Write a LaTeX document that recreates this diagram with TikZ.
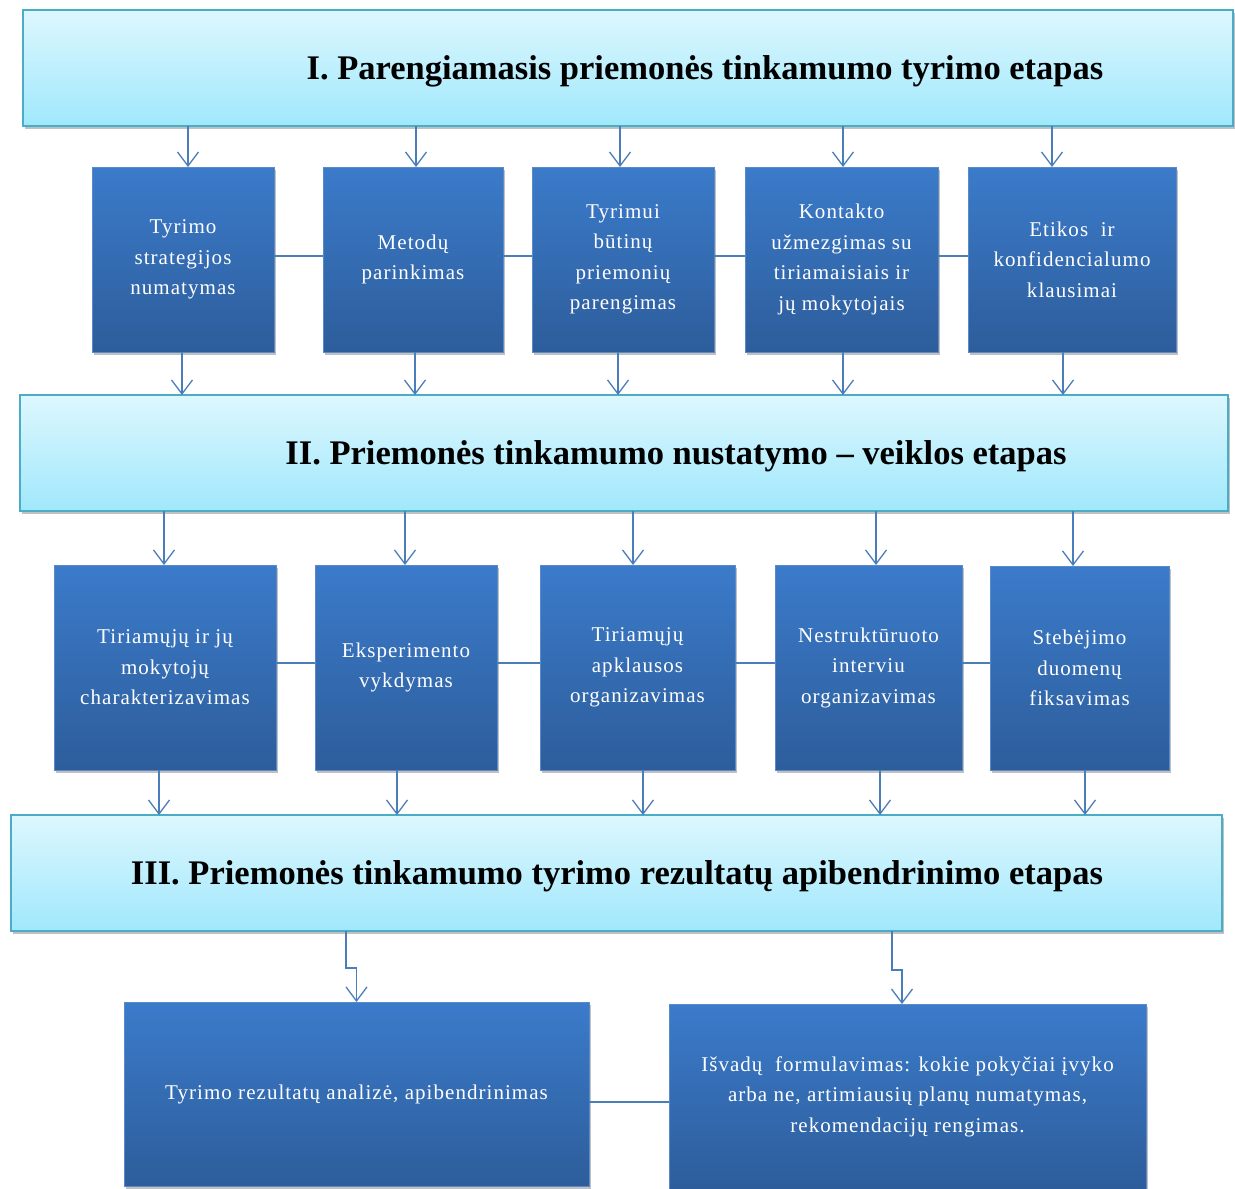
\documentclass[tikz,border=0pt]{standalone}
\usepackage{fontspec}
\setmainfont{Liberation Serif}
\newfontfamily\boxfont{Liberation Serif}[LetterSpace=5]
\usetikzlibrary{arrows.meta,shadows,calc}

\definecolor{bannerTop}{HTML}{DDF7FE}
\definecolor{bannerBot}{HTML}{A0E8FC}
\definecolor{bannerLine}{HTML}{4BACC6}
\definecolor{boxTop}{HTML}{3B7BCA}
\definecolor{boxBot}{HTML}{2D5D9B}
\definecolor{boxLine}{HTML}{5A8BC8}
\definecolor{linkCol}{HTML}{4A7EBB}

\tikzset{
  banner/.style={draw=bannerLine, line width=1.4pt, top color=bannerTop,
    bottom color=bannerBot, inner sep=0pt, outer sep=0pt,
    drop shadow={shadow xshift=2pt, shadow yshift=-3pt, opacity=0.35, fill=black!70}},
  bannertext/.style={font=\bfseries\fontsize{34.5}{38}\selectfont, text=black,
    inner sep=0pt, anchor=base},
  stepbox/.style={draw=boxLine, line width=0.8pt, top color=boxTop,
    bottom color=boxBot, inner sep=0pt, outer sep=0pt, align=center,
    text=white, font=\boxfont\fontsize{21}{30.5}\selectfont,
    drop shadow={shadow xshift=2pt, shadow yshift=-3pt, opacity=0.35, fill=black!70}},
  arr/.style={draw=linkCol, line width=1.3pt,
    -{Straight Barb[length=14pt,width=21pt,line width=1.3pt]}},
  link/.style={draw=linkCol, line width=1.3pt}
}

\begin{document}
\begin{tikzpicture}[x=1pt,y=-1pt]
\useasboundingbox (0,0) rectangle (1235,1189);
\fill[white] (0,0) rectangle (1235,1189);

% stage banners
\node[banner, minimum width=1210pt, minimum height=116pt] (bI) at (628,68) {};
\node[bannertext] (tI) at (705,79) {I. Parengiamasis priemonės tinkamumo tyrimo etapas};
\node[banner, minimum width=1208pt, minimum height=116pt] (bII) at (624,453) {};
\node[bannertext] (tII) at (676,464) {II. Priemonės tinkamumo nustatymo -- veiklos etapas};
\node[banner, minimum width=1211pt, minimum height=116pt] (bIII) at (616.5,873) {};
\node[bannertext] (tIII) at (617,884) {III. Priemonės tinkamumo tyrimo rezultatų apibendrinimo etapas};

% first row of steps
\node[stepbox, minimum width=182pt, minimum height=185pt] (b1) at (183,259.5) {Tyrimo\\strategijos\\numatymas};
\node[stepbox, minimum width=180pt, minimum height=185pt] (b2) at (413,259.5) {Metodų\\parinkimas};
\node[stepbox, minimum width=182pt, minimum height=185pt] (b3) at (623,259.5) {Tyrimui\\būtinų\\priemonių\\parengimas};
\node[stepbox, minimum width=193pt, minimum height=185pt] (b4) at (841.5,259.5) {Kontakto\\užmezgimas su\\tiriamaisiais ir\\jų mokytojais};
\node[stepbox, minimum width=208pt, minimum height=185pt] (b5) at (1072,259.5) {Etikos~ ir\\konfidencialumo\\klausimai};

% second row of steps
\node[stepbox, minimum width=222pt, minimum height=205pt] (c1) at (165,667.5) {Tiriamųjų ir jų\\mokytojų\\charakterizavimas};
\node[stepbox, minimum width=182pt, minimum height=205pt] (c2) at (406,667.5) {Eksperimento\\vykdymas};
\node[stepbox, minimum width=195pt, minimum height=205pt] (c3) at (637.5,667.5) {Tiriamųjų\\apklausos\\organizavimas};
\node[stepbox, minimum width=187pt, minimum height=205pt] (c4) at (868.5,667.5) {Nestruktūruoto\\interviu\\organizavimas};
\node[stepbox, minimum width=179pt, minimum height=204pt] (c5) at (1079.5,668) {Stebėjimo\\duomenų\\fiksavimas};

% final row
\node[stepbox, minimum width=465pt, minimum height=184pt] (d1) at (356.5,1094) {Tyrimo rezultatų analizė, apibendrinimas};
\node[stepbox, minimum width=477pt, minimum height=185pt] (d2) at (907.5,1096.5) {Išvadų~ formulavimas: kokie pokyčiai įvyko\\arba ne, artimiausių planų numatymas,\\rekomendacijų rengimas.};

% horizontal links inside each row
\foreach \a/\b in {b1/b2,b2/b3,b3/b4,b4/b5}
  \draw[link] ([yshift=3.5pt]\a.east) -- ([yshift=3.5pt]\a.east -| \b.west);
\foreach \a/\b in {c1/c2,c2/c3,c3/c4,c4/c5}
  \draw[link] ([yshift=4.5pt]\a.east) -- ([yshift=4.5pt]\a.east -| \b.west);
\draw[link] ([yshift=-8pt]d1.east) -- ([yshift=-8pt]d1.east -| d2.west);

% arrows: stage I -> first row -> stage II
\foreach \n/\dt/\db in {1/5/-1, 2/3/2, 3/-3/-5, 4/1.5/1.5, 5/-20/-9} {
  \coordinate (in\n) at ([xshift=\dt pt]b\n.north);
  \coordinate (out\n) at ([xshift=\db pt]b\n.south);
  \draw[arr] (bI.south -| in\n) -- (in\n);
  \draw[arr] (out\n) -- (out\n |- bII.north);
}

% arrows: stage II -> second row -> stage III
\foreach \n/\dt/\db in {1/-1/-6, 2/-1/-9, 3/-4.5/5.5, 4/7.5/11.5, 5/-6.5/5.5} {
  \coordinate (cin\n) at ([xshift=\dt pt]c\n.north);
  \coordinate (cout\n) at ([xshift=\db pt]c\n.south);
  \draw[arr] (bII.south -| cin\n) -- (cin\n);
  \draw[arr] (cout\n) -- (cout\n |- bIII.north);
}

% elbow arrows: stage III -> final row
\coordinate (e1) at ([xshift=-10.5pt]d1.north);
\coordinate (e2) at ([xshift=-15.5pt]d2.north);
\coordinate (f2) at ([xshift=-5.5pt]d2.north);
\draw[arr] (bIII.south -| e1) -- ++(0,37) -| (d1.north);
\draw[arr] (bIII.south -| e2) -- ++(0,39) -| (f2);
\end{tikzpicture}
\end{document}
